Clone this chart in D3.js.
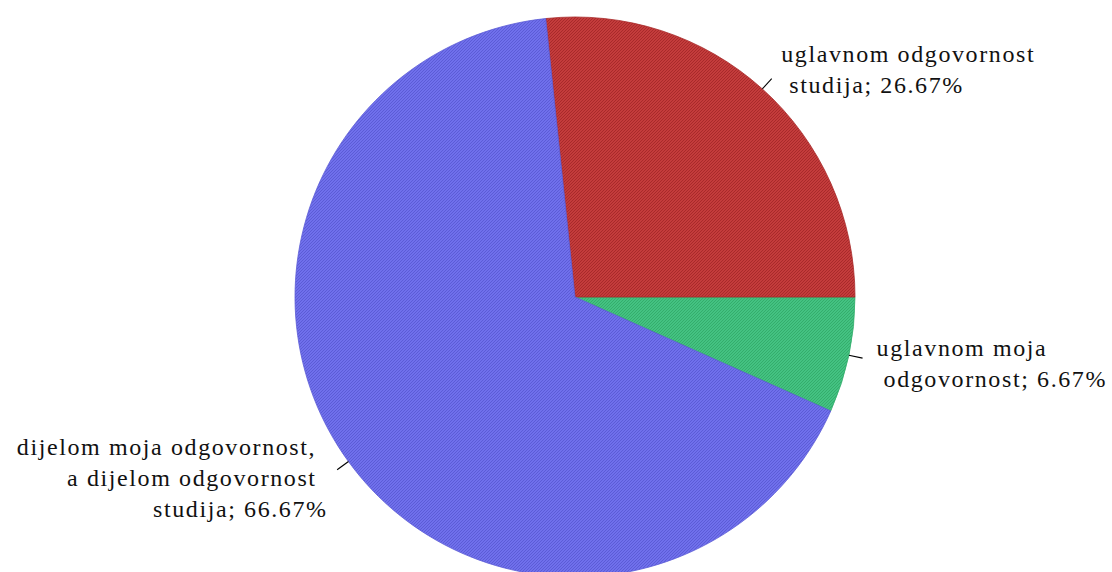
<!DOCTYPE html>
<html><head><meta charset="utf-8">
<script src="https://cdn.jsdelivr.net/npm/d3@7"></script>
<style>
html,body{margin:0;padding:0;background:#fff;}
svg text{font-family:"Liberation Serif","DejaVu Serif",serif;}
</style></head>
<body><svg id="c" width="1112" height="572"></svg>
<script>
// Data
const categories = ["uglavnom moja odgovornost", "uglavnom odgovornost studija", "dijelom moja odgovornost, a dijelom odgovornost studija"];
const values = [6.67, 26.67, 66.67];
const labelLines = [
  ["uglavnom moja", "odgovornost; 6.67%"],
  ["uglavnom odgovornost", "studija; 26.67%"],
  ["dijelom moja odgovornost,", "a dijelom odgovornost", "studija; 66.67%"]
];
const baseColors = ["#44c282", "#c43c3c", "#7070ec"];
const lineColors = ["#34ad6c", "#a82a2a", "#5c5cd6"];

const svg = d3.select("#c");
const cx = 575, cy = 297, R = 280;

const defs = svg.append("defs");
baseColors.forEach((c, i) => {
  const p = defs.append("pattern").attr("id", "pat" + i)
    .attr("patternUnits", "userSpaceOnUse").attr("width", 3).attr("height", 3);
  p.append("rect").attr("width", 3).attr("height", 3).attr("fill", c);
  p.append("path").attr("d", "M-1,1 L1,-1 M0,3 L3,0 M2,4 L4,2")
    .attr("stroke", lineColors[i]).attr("stroke-width", 1);
});

const total = d3.sum(values);
const pie = d3.pie().sort(null).value(d => d)
  .startAngle(Math.PI / 2 + 2 * Math.PI * values[0] / total)
  .endAngle(Math.PI / 2 + 2 * Math.PI * values[0] / total - 2 * Math.PI);
const arcs = pie(values);
const arc = d3.arc().innerRadius(0).outerRadius(R);

const g = svg.append("g").attr("transform", `translate(${cx},${cy})`);
g.selectAll("path.slice").data(arcs).join("path")
  .attr("class", "slice")
  .attr("d", arc)
  .attr("fill", (d, i) => `url(#pat${i})`)
  .attr("stroke", (d, i) => lineColors[i]).attr("stroke-width", 0.8);

const pinIn = d3.arc().innerRadius(R).outerRadius(R);
const pinOut = d3.arc().innerRadius(R + 14).outerRadius(R + 14);
const labelOffsets = [
  {dx: 14, dy: -2, anchor: "start", shifts: [0, 7]},
  {dx: 9.5, dy: -16.5, anchor: "start", shifts: [0, 8]},
  {dx: -9.5, dy: -15, anchor: "end", shifts: [-11.5, -11, 0]}
];
const fs = 24, lh = 31;
arcs.forEach((a, i) => {
  const p0 = pinIn.centroid(a), p1 = pinOut.centroid(a);
  g.append("line").attr("x1", p0[0]).attr("y1", p0[1]).attr("x2", p1[0]).attr("y2", p1[1])
    .attr("stroke", "#000").attr("stroke-width", 1.1);
  const o = labelOffsets[i];
  const t = g.append("text").attr("font-size", fs).attr("fill", "#111")
    .attr("letter-spacing", 1.6)
    .attr("text-anchor", o.anchor);
  labelLines[i].forEach((ln, j) => {
    t.append("tspan").attr("x", p1[0] + o.dx + o.shifts[j]).attr("y", p1[1] + o.dy + j * lh).text(ln);
  });
});
</script></body></html>
